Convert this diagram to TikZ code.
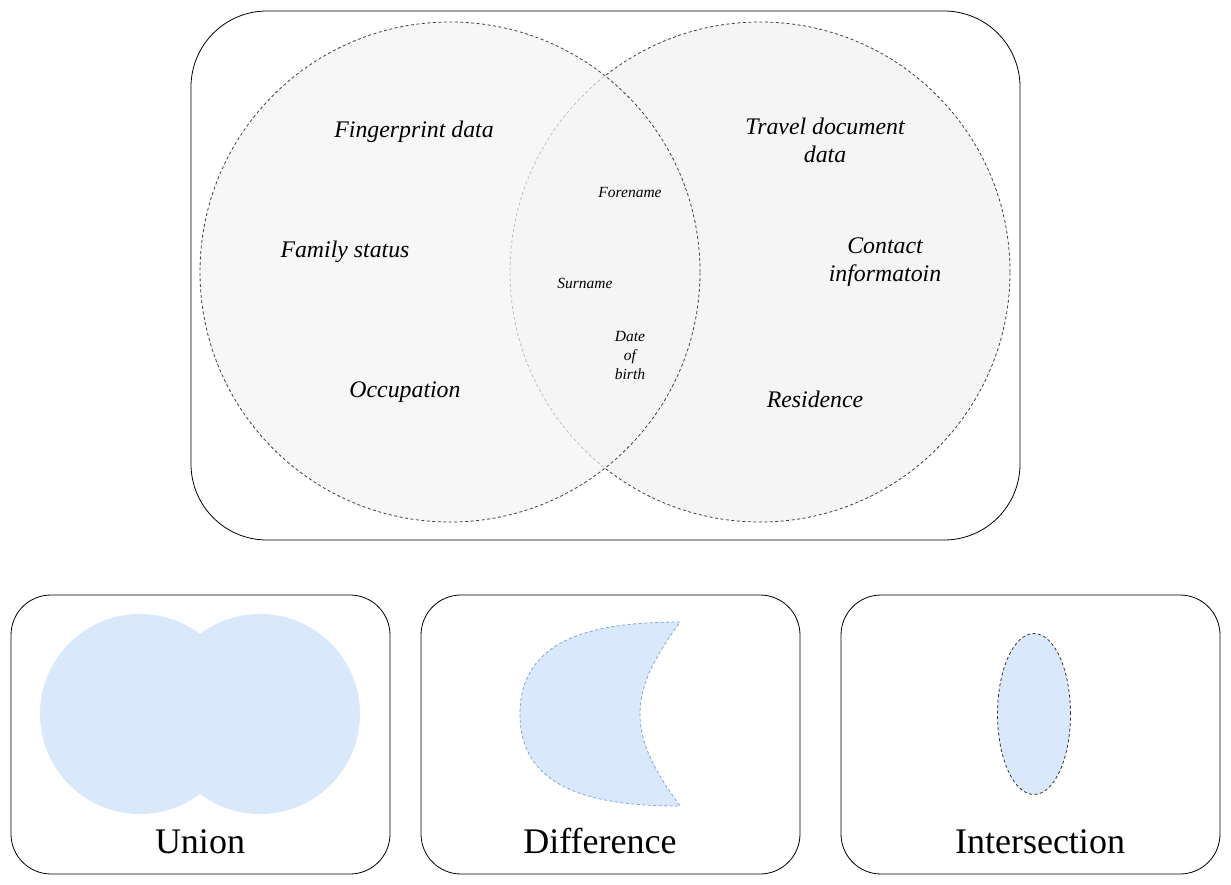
\documentclass[tikz,border=0pt]{standalone}
\usepackage{fontspec}
\setmainfont{Liberation Serif}
\usepackage{tikz}
\usetikzlibrary{positioning}
\usetikzlibrary{shapes.geometric}
\definecolor{setGrey}{HTML}{F5F5F5}
\definecolor{opBlue}{HTML}{DAE8FC}
\definecolor{opBlueLine}{HTML}{7EA6E0}
\tikzstyle{bigbox} = [draw=black, line width=0.8pt, rounded corners=76pt]
\tikzstyle{smallbox} = [draw=black, line width=0.8pt, rounded corners=40pt]
\tikzstyle{setcircle} = [circle, draw=black!75, line width=0.8pt, dash pattern=on 3pt off 2.5pt, fill=setGrey, minimum size=500pt, inner sep=0pt]
\tikzstyle{biglabel} = [font=\fontsize{23.8}{27.8}\selectfont\itshape, align=center, inner sep=0pt]
\tikzstyle{smalllabel} = [font=\fontsize{15.5}{19}\selectfont\itshape, align=center, inner sep=0pt]
\tikzstyle{optitle} = [font=\fontsize{36}{40}\selectfont, inner sep=0pt, anchor=base]

\begin{document}
\begin{tikzpicture}[x=1pt, y=-1pt]
						\useasboundingbox[fill=white] (0,0) rectangle (1231,885);
						
						%Frames
						\draw[bigbox] (191,11) rectangle (1020,540);
						\draw[smallbox] (11,595) rectangle (390,874);
						\draw[smallbox] (421,595) rectangle (800,874);
						\draw[smallbox] (841,595) rectangle (1220,874);
						
						%Sets
						\node[setcircle] (rightSet) at (760,272) {};
						\node[setcircle, fill opacity=0.7] (leftSet) at (450,272) {};
						
						%Left set
						\node[biglabel, anchor=base] (fingerprint) at (414,138) {Fingerprint data};
						\node[biglabel, anchor=base] (family) at (345,258) {Family status};
						\node[biglabel, anchor=base] (occupation) at (405,397) {Occupation};
						
						%Right set
						\node[biglabel] (travel) at (825,140.5) {Travel document\\data};
						\node[biglabel] (contact) at (885,262) {Contact\\informatoin};
						\node[biglabel, anchor=base] (residence) at (815,407) {Residence};
						
						%Shared
						\node[smalllabel, anchor=base] (forename) at (630,198) {Forename};
						\node[smalllabel, anchor=base] (surname) at (585,288) {Surname};
						\node[smalllabel] (birth) at (630,355) {Date\\of\\birth};
						
						%Union
						\fill[opBlue] (140,714) circle (100);
						\fill[opBlue] (260,714) circle (100);
						\node[optitle] (union) at (200,853) {Union};
						
						%Difference
						\draw[opBlueLine, fill=opBlue, line width=0.8pt, dash pattern=on 3pt off 2.5pt]
							(680,622) .. controls (590,622) and (520,640) .. (520,714)
							.. controls (520,788) and (590,806) .. (680,806)
							.. controls (660,778) and (640,748) .. (640,714)
							.. controls (640,680) and (660,650) .. cycle;
						\node[optitle] (difference) at (600,853) {Difference};
						
						%Intersection
						\node[ellipse, draw=black!80, fill=opBlue, line width=0.8pt, dash pattern=on 3pt off 2.5pt, minimum width=73pt, minimum height=161pt, inner sep=0pt] (shared) at (1034,714) {};
						\node[optitle] (intersection) at (1040,853) {Intersection};
					\end{tikzpicture}
\end{document}
